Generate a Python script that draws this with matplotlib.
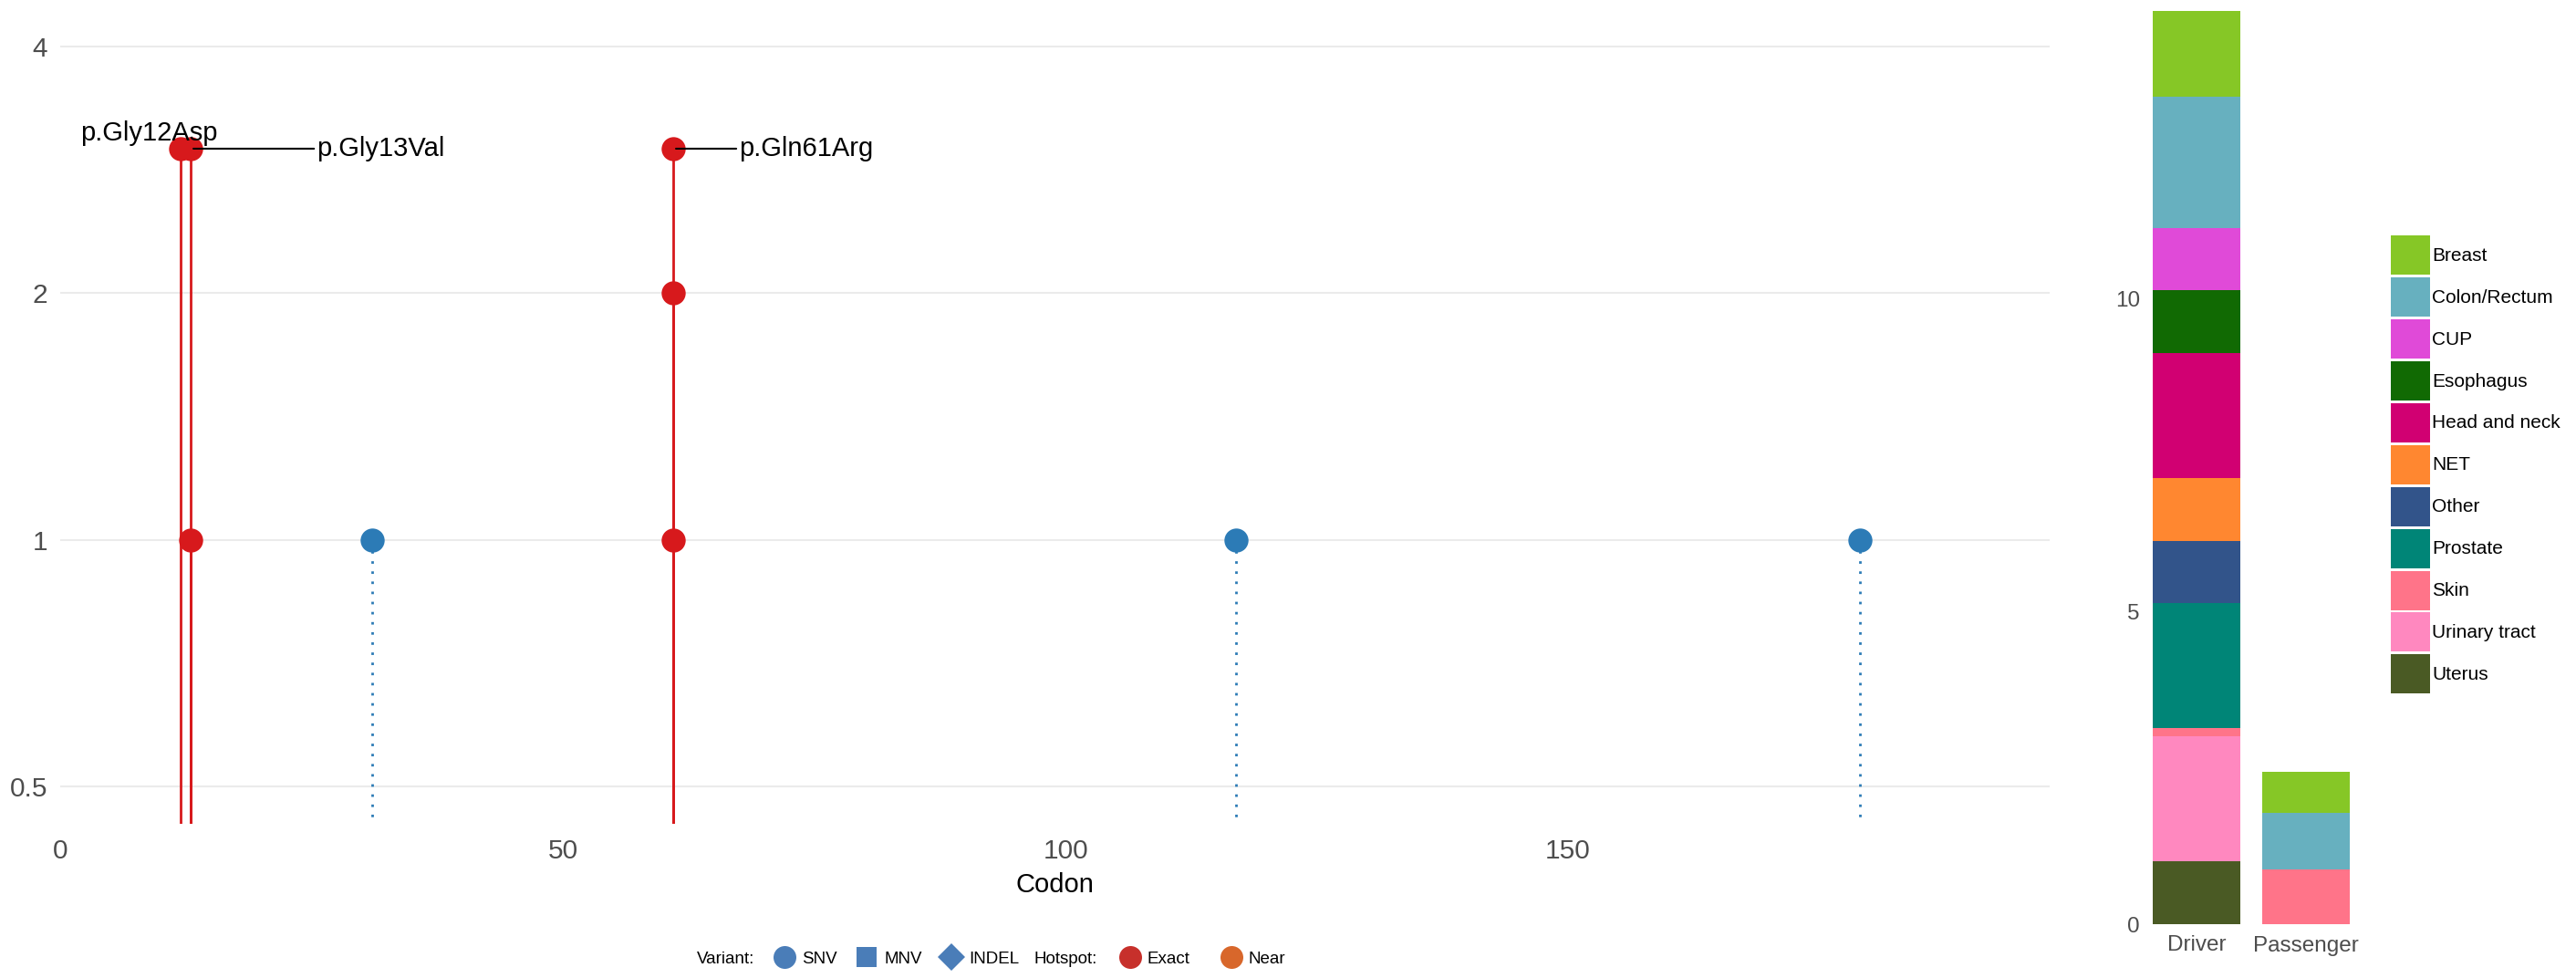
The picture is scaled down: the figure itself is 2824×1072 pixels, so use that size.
import matplotlib
matplotlib.use("Agg")
import matplotlib.pyplot as plt
from matplotlib.lines import Line2D
from matplotlib.patches import Patch
import numpy as np

plt.rcParams['font.family'] = ['Liberation Sans', 'DejaVu Sans']

# ---------------- data ----------------
codons = [12, 13, 13, 61, 61, 61, 31, 117, 179]
counts = [3, 3, 1, 3, 2, 1, 1, 1, 1]
hotspot = ["Exact", "Exact", "Exact", "Exact", "Exact", "Exact", "None", "None", "None"]

label_text = ["p.Gly12Asp", "p.Gly13Val", "p.Gln61Arg"]
label_codon = [12, 13, 61]
label_count = [3, 3, 3]

x_ticks = [0, 50, 100, 150]
y_ticks = [0.5, 1, 2, 4]
y_ticklabels = ["0.5", "1", "2", "4"]

bar_groups = ["Driver", "Passenger"]
tumor_types = ["Uterus", "Urinary tract", "Skin", "Prostate", "Other", "NET",
               "Head and neck", "Esophagus", "CUP", "Colon/Rectum", "Breast"]
driver_vals = [1.0, 2.0, 0.13, 2.0, 1.0, 1.0, 2.0, 1.0, 1.0, 2.09, 1.38]
passenger_vals = [0.0, 0.0, 0.87, 0.0, 0.0, 0.0, 0.0, 0.0, 0.01, 0.90, 0.66]
tumor_colors = ["#4A5A24", "#FF88BF", "#FF7489", "#008577", "#32548A", "#FF8730",
                "#D10072", "#116A03", "#E04AD8", "#67B0BF", "#86C726"]

RED = "#D7191C"
BLUE = "#2C7BB6"
W, H = 2824, 1072

fig = plt.figure(figsize=(W / 100, H / 100), dpi=100)

# ---------------- lollipop panel ----------------
ax = fig.add_axes([66 / W, (H - 902.7) / H, (2247 - 66) / W, 902.7 / H])
ax.set_yscale("log")
ylo, yhi = 2 ** -1.1506, 2 ** 2.1876
ax.set_ylim(ylo, yhi)
ax.set_xlim(0, 197.9)

for c, n, h in zip(codons, counts, hotspot):
    if h == "Exact":
        ax.plot([c, c], [0.01, n], color=RED, lw=2.0, zorder=2, solid_capstyle="butt")
    else:
        ax.plot([c, c], [0.01, n], color=BLUE, lw=2.0, linestyle=(0, (1, 3)),
                dash_capstyle="butt", zorder=2)
for c, n, h in zip(codons, counts, hotspot):
    ax.plot([c], [n], marker="o", markersize=19, markeredgewidth=0,
            color=RED if h == "Exact" else BLUE, zorder=2.5, clip_on=False)

# labels
ax.annotate(label_text[0], xy=(label_codon[0], label_count[0]),
            xytext=(-25, 12), textcoords="offset points",
            ha="center", va="center", fontsize=21, color="black", zorder=4)
for i, tx in zip([1, 2], [25.5, 67.5]):
    ax.annotate(label_text[i], xy=(label_codon[i], label_count[i]),
                xytext=(tx, label_count[i]), textcoords="data",
                ha="left", va="center", fontsize=21, color="black", zorder=4,
                arrowprops=dict(arrowstyle="-", color="black", lw=1.5,
                                shrinkA=0, shrinkB=2))

ax.set_yticks(y_ticks)
ax.set_yticklabels(y_ticklabels)
ax.minorticks_off()
ax.set_xticks(x_ticks)
ax.grid(axis="y", color="#EBEBEB", lw=1.5)
ax.grid(axis="x", visible=False)
ax.set_axisbelow(True)
for s in ax.spines.values():
    s.set_visible(False)
ax.tick_params(axis="both", length=0, labelsize=21.5, labelcolor="#4D4D4D")
ax.tick_params(axis="y", pad=10)
ax.tick_params(axis="x", pad=12)
ax.set_xlabel("Codon", fontsize=21, color="black", labelpad=6)

# bottom legends (Variant / Hotspot)
vcol = "#4A7DB8"
blank = Line2D([], [], linestyle="none", marker=None)
var_handles = [
    blank,
    Line2D([], [], linestyle="none", marker="o", markersize=18, color=vcol, markeredgewidth=0),
    Line2D([], [], linestyle="none", marker="s", markersize=16.5, color=vcol, markeredgewidth=0),
    Line2D([], [], linestyle="none", marker="D", markersize=15.5, color=vcol, markeredgewidth=0),
]
var_labels = ["Variant:", "SNV", "MNV", "INDEL"]
hot_handles = [
    blank,
    Line2D([], [], linestyle="none", marker="o", markersize=18, color="#C7302B", markeredgewidth=0),
]
hot_labels = ["Hotspot:", "Exact"]
near_handles = [
    Line2D([], [], linestyle="none", marker="o", markersize=18, color="#D8672B", markeredgewidth=0),
]
near_labels = ["Near"]
common = dict(frameon=False, handlelength=1.3, handletextpad=0.35, fontsize=13.5,
              borderpad=0, borderaxespad=0, loc="center left")
fig.legend(var_handles, var_labels, ncol=4, columnspacing=1.1,
           bbox_to_anchor=(733 / W, 1 - 1051 / H), **common)
fig.legend(hot_handles, hot_labels, ncol=2, columnspacing=1.25,
           bbox_to_anchor=(1103 / W, 1 - 1051 / H), **common)
fig.legend(near_handles, near_labels, ncol=1,
           bbox_to_anchor=(1338 / W, 1 - 1051 / H), **common)

# ---------------- stacked bar panel ----------------
axb = fig.add_axes([2350 / W, (H - 1013) / H, (2594 - 2350) / W, 1013 / H])
xpos = np.arange(1, len(bar_groups) + 1)
bottoms = np.zeros(len(bar_groups))
for t, dv, pv, col in zip(tumor_types, driver_vals, passenger_vals, tumor_colors):
    vals = np.array([dv, pv])
    axb.bar(xpos, vals, width=0.8, bottom=bottoms, color=col, linewidth=0)
    bottoms += vals
axb.set_xlim(1 - 58 / 120, 2 + 66 / 120)
axb.set_ylim(0, 14.77)
axb.set_xticks(xpos)
axb.set_xticklabels(bar_groups)
axb.set_yticks([0, 5, 10])
for s in axb.spines.values():
    s.set_visible(False)
axb.tick_params(axis="both", length=0, labelsize=17.5, labelcolor="#4D4D4D")
axb.tick_params(axis="y", pad=3)
axb.tick_params(axis="x", pad=9)

leg_handles = [Patch(facecolor=c, edgecolor="none") for c in tumor_colors[::-1]]
fig.legend(leg_handles, tumor_types[::-1], loc="upper left",
           bbox_to_anchor=(2621 / W, 1 - 258 / H), frameon=False,
           fontsize=15, handlelength=2.07, handleheight=2.8,
           labelspacing=0.14, handletextpad=0.1, borderpad=0, borderaxespad=0)

fig.savefig("out.png", dpi=100, facecolor="white")
